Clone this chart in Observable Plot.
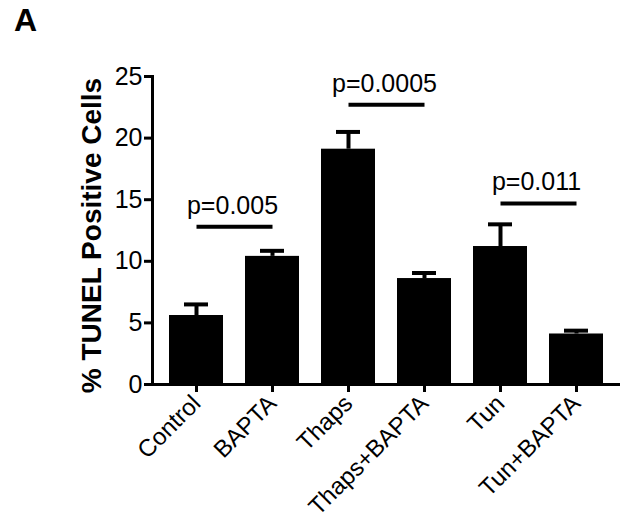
<!DOCTYPE html>
<html>
<head>
<meta charset="utf-8">
<script src="https://cdn.jsdelivr.net/npm/d3@7"></script>
<script src="https://cdn.jsdelivr.net/npm/@observablehq/plot@0.6"></script>
<style>
  html, body { margin: 0; padding: 0; background: #fff; }
  #wrap { position: relative; width: 632px; height: 529px; font-family: "Liberation Sans", Arial, sans-serif; }
  #panel { position: absolute; left: 14px; top: 4px; font-size: 32px; font-weight: bold; color: #000; line-height: 1; z-index: 2; }
  svg { display: block; }
</style>
</head>
<body>
<div id="wrap"><div id="panel">A</div></div>
<script>
const categories = ["Control", "BAPTA", "Thaps", "Thaps+BAPTA", "Tun", "Tun+BAPTA"];
const means = [5.6, 10.4, 19.1, 8.6, 11.2, 4.1];
const errors = [0.9, 0.45, 1.4, 0.45, 1.8, 0.27];
const yTicks = [0, 5, 10, 15, 20, 25];
const pFrom = ["Control", "Thaps", "Tun"];
const pTo = ["BAPTA", "Thaps+BAPTA", "Tun+BAPTA"];
const pY = [12.8, 22.7, 14.7];
const pLabels = ["p=0.005", "p=0.0005", "p=0.011"];
const yLabel = "% TUNEL Positive Cells";

const bars = categories.map((c, i) => ({cat: c, mean: means[i], top: means[i] + errors[i]}));
const sig = pFrom.map((a, i) => ({a, b: pTo[i], y: pY[i], label: pLabels[i]}));

const chart = Plot.plot({
  width: 632,
  height: 529,
  marginLeft: 152,
  marginRight: 12,
  marginTop: 76,
  marginBottom: 145,
  style: {fontFamily: "'Liberation Sans', Arial, sans-serif", color: "#000", background: "#fff"},
  x: {domain: categories, paddingInner: 0.286, paddingOuter: 0.188},
  y: {domain: [0, 25]},
  marks: [
    Plot.barY(bars, {x: "cat", y: "mean", fill: "#000"}),
    Plot.ruleX(bars, {x: "cat", y1: "mean", y2: "top", stroke: "#000", strokeWidth: 4}),
    Plot.tickY(bars, {x: "cat", y: "top", stroke: "#000", strokeWidth: 4, insetLeft: 15, insetRight: 15}),
    Plot.link(sig, {x1: "a", x2: "b", y1: "y", y2: "y", stroke: "#000", strokeWidth: 4}),
    Plot.text(sig, {x: "a", y: "y", text: "label", dx: 36, dy: -21, fontSize: 25, fill: "#000"}),
    Plot.ruleY([0], {stroke: "#000", strokeWidth: 3}),
    Plot.frame({anchor: "left", stroke: "#000", strokeWidth: 3}),
    Plot.axisY({ticks: yTicks, tickSize: 8, tickPadding: 2, fontSize: 25, strokeWidth: 3, label: null}),
    Plot.axisX({tickRotate: -45, tickSize: 8, tickPadding: 7, fontSize: 24, strokeWidth: 3, label: null}),
    Plot.text([yLabel], {frameAnchor: "left", textAnchor: "middle", rotate: -90, dx: -60, dy: 5, fontSize: 28, fontWeight: "bold", fill: "#000"})
  ]
});
document.getElementById("wrap").appendChild(chart);
</script>
</body>
</html>
